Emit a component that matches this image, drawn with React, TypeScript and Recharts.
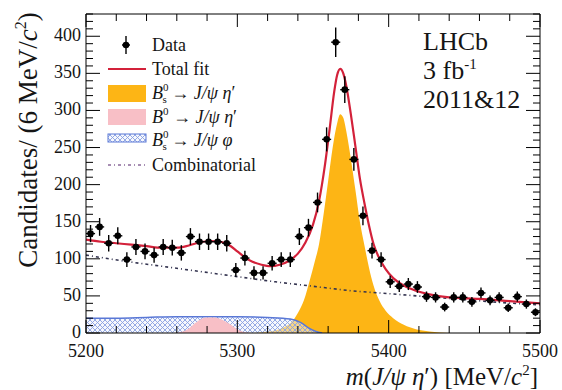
import React from 'react';
import { ComposedChart, Line, Area, Scatter, ErrorBar, XAxis, YAxis } from 'recharts';

// ---------- data ----------
const binCenters = [5203,5209,5215,5221,5227,5233,5239,5245,5251,5257,5263,5269,5275,5281,5287,5293,5299,5305,5311,5317,5323,5329,5335,5341,5347,5353,5359,5365,5371,5377,5383,5389,5395,5401,5407,5413,5419,5425,5431,5437,5443,5449,5455,5461,5467,5473,5479,5485,5491,5497];
const counts = [134,143,121,131,99,116,110,105,116,115,108,130,123,123,123,121,85,101,81,81,94,99,99,130,142,176,261,392,328,234,158,111,99,69,63,66,62,49,48,35,48,48,42,54,44,48,34,49,39,28];
const countErrors = [11.6,12.0,11.0,11.4,9.9,10.8,10.5,10.2,10.8,10.7,10.4,11.4,11.1,11.1,11.1,11.0,9.2,10.0,9.0,9.0,9.7,9.9,9.9,11.4,11.9,13.3,16.2,19.8,18.1,15.3,12.6,10.5,9.9,8.3,7.9,8.1,7.9,7.0,6.9,5.9,6.9,6.9,6.5,7.3,6.6,6.9,5.8,7.0,6.2,5.3];
const binHalfWidth = 3;

const fitMass = [5200,5210,5220,5230,5240,5250,5260,5268,5275,5282,5289,5295,5300,5305,5310,5316,5322,5328,5334,5340,5345,5350,5354,5358,5361,5364,5366,5368,5370,5372,5375,5378,5381,5384,5387,5390,5394,5398,5403,5410,5418,5427,5440,5460,5480,5500];
const fitValues = [126,123,121,119,117,115,115,118,122,124,123,118,110,102,96,92,90,92,97,107,122,146,178,228,275,325,348,356,350,333,295,252,208,175,145,120,100,86,74,64,57,52,48,46,43,40];

const bsEtaMass = [5310,5320,5326,5331,5336,5340,5344,5348,5351,5354,5357,5360,5363,5366,5368,5370,5372,5375,5378,5381,5384,5387,5390,5394,5398,5403,5410,5418,5427,5440];
const bsEtaValues = [0,2,4,8,15,27,44,72,95,120,160,205,250,283,295,290,272,235,193,150,118,88,64,43,30,20,11,5,2,0];

const b0EtaMass = [5258,5264,5268,5272,5276,5280,5285,5290,5295,5300,5305,5311];
const b0EtaValues = [0,2,6,13,19,21,21,18,12,5,1,0];

const bsPhiMass = [5200,5220,5240,5260,5280,5300,5320,5335,5342,5347,5352,5356];
const bsPhiValues = [20,20,21,22,22,22,21,19,14,7,2,0];

const combMass = [5200,5225,5250,5275,5300,5325,5350,5375,5400,5425,5450,5475,5500];
const combValues = [105,97,90,83,76,69,63,57,53,49,45,41,38];

const xMajorTicks = [5200,5300,5400,5500];
const xAllTicks = [5200,5220,5240,5260,5280,5300,5320,5340,5360,5380,5400,5420,5440,5460,5480,5500];
const yMajorTicks = [0,50,100,150,200,250,300,350,400];
const yAllTicks = [0,10,20,30,40,50,60,70,80,90,100,110,120,130,140,150,160,170,180,190,200,210,220,230,240,250,260,270,280,290,300,310,320,330,340,350,360,370,380,390,400,410,420,430];

// ---------- tables built from the arrays ----------
const pointData = binCenters.map((m, i) => ({ m, n: counts[i], en: countErrors[i], em: binHalfWidth }));
const fitData = fitMass.map((m, i) => ({ m, v: fitValues[i] }));
const bsEtaData = bsEtaMass.map((m, i) => ({ m, v: bsEtaValues[i] }));
const b0EtaData = b0EtaMass.map((m, i) => ({ m, v: b0EtaValues[i] }));
const bsPhiData = bsPhiMass.map((m, i) => ({ m, v: bsPhiValues[i] }));
const combData = combMass.map((m, i) => ({ m, v: combValues[i] }));

const FONT = "'Liberation Serif','Times New Roman',Times,serif";
const TXT = '#151515';
const RED = '#d3213a';
const ORANGE = '#fdb515';
const PINK = '#f8bfc6';
const BLUE = '#5a78d6';
const COMB = '#33334f';

const bottomTick = (p: any) => {
  const v = p.payload.value;
  const major = xMajorTicks.includes(v);
  return (
    <g>
      <line x1={p.x} x2={p.x} y1={p.y} y2={p.y - (major ? 13 : 7)} stroke="#000" strokeWidth={1} />
      {major ? (
        <text x={p.x} y={p.y + 24} textAnchor="middle" fontSize={18} fontFamily={FONT} style={{ fontFamily: FONT }} fill={TXT}>{v}</text>
      ) : null}
    </g>
  );
};
const topTick = (p: any) => {
  const v = p.payload.value;
  const major = xMajorTicks.includes(v);
  return <line x1={p.x} x2={p.x} y1={p.y} y2={p.y + (major ? 13 : 7)} stroke="#000" strokeWidth={1} />;
};
const leftTick = (p: any) => {
  const v = p.payload.value;
  const major = yMajorTicks.includes(v);
  return (
    <g>
      <line x1={p.x} x2={p.x + (major ? 14 : 7)} y1={p.y} y2={p.y} stroke="#000" strokeWidth={1} />
      {major ? (
        <text x={p.x - 5} y={p.y + 5} textAnchor="end" fontSize={18} fontFamily={FONT} style={{ fontFamily: FONT }} fill={TXT}>{v}</text>
      ) : null}
    </g>
  );
};
const rightTick = (p: any) => {
  const v = p.payload.value;
  const major = yMajorTicks.includes(v);
  return <line x1={p.x} x2={p.x - (major ? 14 : 7)} y1={p.y} y2={p.y} stroke="#000" strokeWidth={1} />;
};

const dot = (p: any) => <circle cx={p.cx} cy={p.cy} r={3.3} fill="#000" />;

export default function App() {
  return (
    <div style={{ position: 'absolute', left: 0, top: 0, width: 562, height: 390, background: '#fff', fontFamily: FONT }}>
      <svg width={0} height={0} style={{ position: 'absolute' }}>
        <defs>
          <pattern id="hatchBlue" width={5} height={5} patternUnits="userSpaceOnUse">
            <rect width={5} height={5} fill="#eef2fb" fillOpacity={0.5} />
            <path d="M0,0 L5,5 M5,0 L0,5" stroke="#8aa2e2" strokeWidth={0.9} />
          </pattern>
        </defs>
      </svg>
      <ComposedChart width={562} height={390} margin={{ top: 13, right: 21, bottom: 56, left: 85 }}>
        <XAxis xAxisId={0} dataKey="m" type="number" domain={[5200, 5500]} allowDataOverflow ticks={xAllTicks} interval={0}
          height={1} tickSize={0} tickMargin={0} tickLine={false} axisLine={{ stroke: '#000' }} tick={bottomTick} />
        <XAxis xAxisId="top" orientation="top" dataKey="m" type="number" domain={[5200, 5500]} allowDataOverflow ticks={xAllTicks} interval={0}
          height={1} tickSize={0} tickMargin={0} tickLine={false} axisLine={{ stroke: '#000' }} tick={topTick} />
        <YAxis yAxisId={0} type="number" domain={[0, 430]} allowDataOverflow ticks={yAllTicks} interval={0}
          width={1} tickSize={0} tickMargin={0} tickLine={false} axisLine={{ stroke: '#000' }} tick={leftTick} />
        <YAxis yAxisId="right" orientation="right" type="number" domain={[0, 430]} allowDataOverflow ticks={yAllTicks} interval={0}
          width={1} tickSize={0} tickMargin={0} tickLine={false} axisLine={{ stroke: '#000' }} tick={rightTick} />

        <Area data={bsEtaData} dataKey="v" type="monotone" fill={ORANGE} fillOpacity={1} stroke="none" isAnimationActive={false} />
        <Area data={bsPhiData} dataKey="v" type="monotone" fill="url(#hatchBlue)" fillOpacity={1} stroke={BLUE} strokeWidth={1.5} isAnimationActive={false} />
        <Area data={b0EtaData} dataKey="v" type="monotone" fill={PINK} fillOpacity={1} stroke="none" isAnimationActive={false} />
        <Line data={combData} dataKey="v" type="monotone" stroke={COMB} strokeWidth={1.6} strokeDasharray="3 3 1 3" dot={false} isAnimationActive={false} />
        <Line data={fitData} dataKey="v" type="monotone" stroke={RED} strokeWidth={2.2} dot={false} isAnimationActive={false} />
        <Scatter data={pointData} dataKey="n" shape={dot} isAnimationActive={false}>
          <ErrorBar dataKey="en" direction="y" width={0} stroke="#000" strokeWidth={1.4} />
          <ErrorBar dataKey="em" direction="x" width={0} stroke="#000" strokeWidth={1.4} />
        </Scatter>
      </ComposedChart>

      <svg width={562} height={390} style={{ position: 'absolute', left: 0, top: 0, pointerEvents: 'none', fontFamily: FONT }}>
        {/* legend */}
        <g fontFamily={FONT} fontSize={18} fill={TXT}>
          <line x1={126} x2={126} y1={36} y2={54} stroke="#000" strokeWidth={1.4} />
          <line x1={122} x2={130} y1={45} y2={45} stroke="#000" strokeWidth={1.4} />
          <circle cx={126} cy={45} r={3.3} fill="#000" />
          <text x={152} y={51}>Data</text>

          <line x1={108} x2={146} y1={69} y2={69} stroke={RED} strokeWidth={2.2} />
          <text x={152} y={75}>Total fit</text>

          <rect x={108} y={85} width={38} height={17} fill={ORANGE} />
          <text x={152} y={99}>
            <tspan fontStyle="italic">B</tspan>
            <tspan fontSize={11} dy={-8}>0</tspan>
            <tspan fontSize={11} dx={-6} dy={12}>s</tspan>
            <tspan dy={-4}> → </tspan>
            <tspan fontStyle="italic">J/ψ η</tspan>
            <tspan>′</tspan>
          </text>

          <rect x={108} y={109} width={38} height={16} fill={PINK} />
          <text x={152} y={123}>
            <tspan fontStyle="italic">B</tspan>
            <tspan fontSize={11} dy={-8}>0</tspan>
            <tspan dy={8}> → </tspan>
            <tspan fontStyle="italic">J/ψ η</tspan>
            <tspan>′</tspan>
          </text>

          <rect x={108} y={134} width={38} height={8} fill="url(#hatchBlue)" stroke={BLUE} strokeWidth={1} />
          <text x={152} y={146}>
            <tspan fontStyle="italic">B</tspan>
            <tspan fontSize={11} dy={-8}>0</tspan>
            <tspan fontSize={11} dx={-6} dy={12}>s</tspan>
            <tspan dy={-4}> → </tspan>
            <tspan fontStyle="italic">J/ψ φ</tspan>
          </text>

          <line x1={108} x2={146} y1={165} y2={165} stroke="#8a6a9a" strokeWidth={1.6} strokeDasharray="3 3 1 3" />
          <text x={152} y={171}>Combinatorial</text>
        </g>

        {/* LHCb label */}
        <g fontFamily={FONT} fontSize={26} fill={TXT}>
          <text x={423} y={50}>LHCb</text>
          <text x={423} y={79}>3 fb<tspan fontSize={15} dy={-10}>-1</tspan></text>
          <text x={423} y={108}>2011&amp;12</text>
        </g>

        {/* axis titles */}
        <text transform="rotate(-90)" x={-140} y={37} textAnchor="middle" fontFamily={FONT} fontSize={27} fill={TXT}>
          Candidates/ (6 MeV/<tspan fontStyle="italic">c</tspan><tspan fontSize={16} dy={-11}>2</tspan><tspan dy={11}>)</tspan>
        </text>
        <text x={538} y={385} textAnchor="end" fontFamily={FONT} fontSize={25} fill={TXT}>
          <tspan fontStyle="italic">m</tspan>(<tspan fontStyle="italic">J/ψ η</tspan>′) [MeV/<tspan fontStyle="italic">c</tspan><tspan fontSize={15} dy={-10}>2</tspan><tspan dy={10}>]</tspan>
        </text>
      </svg>
    </div>
  );
}
